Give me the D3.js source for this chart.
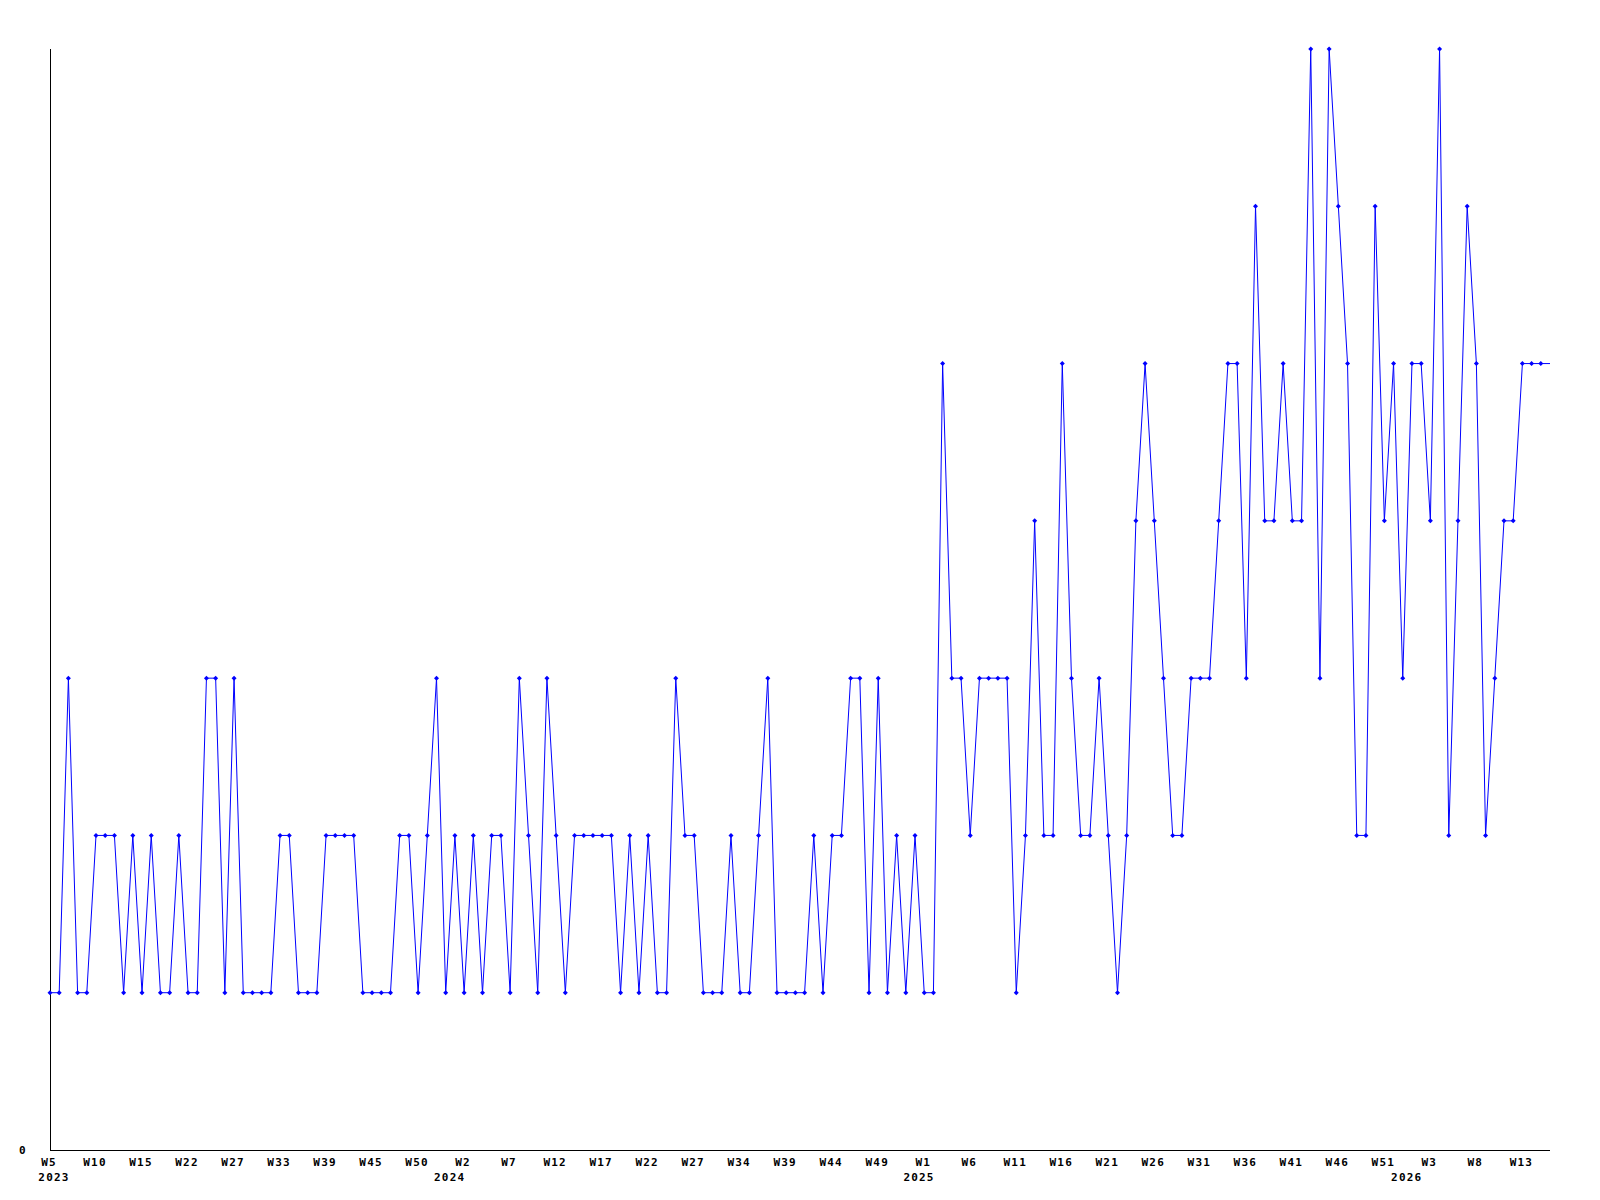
<!DOCTYPE html>
<html>
<head>
<meta charset="utf-8">
<script src="https://cdn.jsdelivr.net/npm/d3@7"></script>
<style>
  body { margin: 0; background: #fff; }
  text { font-family: "DejaVu Sans Mono", monospace; font-weight: bold; font-size: 11px; letter-spacing: 1.2px; }
</style>
</head>
<body>
<svg id="chart" width="1600" height="1200"></svg>
<script>
// weekly counts, one per point (2023 W5 .. 2026 W15)
const values = [
  1,1,3,1,1,2,2,2,1,2, 1,2,1,1,2,1,1,3,3,1, 3,1,1,1,1,2,2,1,1,1, 2,2,2,2,1,1,1,1,2,2,
  1,2,3,1,2,1,2,1,2,2, 1,3,2,1,3,2,1,2,2,2, 2,2,1,2,1,2,1,1,3,2, 2,1,1,1,2,1,1,2,3,1,
  1,1,1,2,1,2,2,3,3,1, 3,1,2,1,2,1,1,5,3,3, 2,3,3,3,3,1,2,4,2,2, 5,3,2,2,3,2,1,2,4,5,
  4,3,2,2,3,3,3,4,5,5, 3,6,4,4,5,4,4,7,3,7, 6,5,2,2,6,4,5,3,5,5, 4,7,2,4,6,5,2,3,4,4,
  5,5,5,5
];

// week tick labels, one every 5th point
const weekLabels = ["W5","W10","W15","W22","W27","W33","W39","W45","W50","W2","W7","W12",
  "W17","W22","W27","W34","W39","W44","W49","W1","W6","W11","W16","W21","W26","W31",
  "W36","W41","W46","W51","W3","W8","W13"];
const weekStep = 5;

// year labels and the point they sit under
const yearNames = ["2023", "2024", "2025", "2026"];
const yearIndex = [0, 43, 94, 147];

const yTicks = [0];

const lineColor = "#0000ff";
const margin = ({top: 49, right: 50, bottom: 50, left: 50});
const width = 1600, height = 1200;

const svg = d3.select("#chart");

const x = d3.scaleLinear()
  .domain([0, values.length - 1])
  .range([margin.left, width - margin.right]);

const y = d3.scaleLinear()
  .domain([0, d3.max(values)])
  .range([height - margin.bottom, margin.top]);

svg.append("rect")
  .attr("width", width)
  .attr("height", height)
  .attr("fill", "white");

// axes
svg.append("line")
  .attr("x1", x(0)).attr("x2", x(0))
  .attr("y1", y(d3.max(values))).attr("y2", y(0))
  .attr("stroke", "black")
  .attr("shape-rendering", "crispEdges");

svg.append("line")
  .attr("x1", x(0)).attr("x2", x(values.length - 1))
  .attr("y1", y(0)).attr("y2", y(0))
  .attr("stroke", "black")
  .attr("shape-rendering", "crispEdges");

svg.selectAll(".ylabel")
  .data(yTicks)
  .enter().append("text")
  .attr("class", "ylabel")
  .attr("x", 23)
  .attr("y", d => y(d) + 4)
  .attr("text-anchor", "middle")
  .text(d => d);

svg.selectAll(".wlabel")
  .data(weekLabels)
  .enter().append("text")
  .attr("class", "wlabel")
  .attr("x", (d, i) => x(i * weekStep) - 1)
  .attr("y", y(0) + 16)
  .attr("text-anchor", "middle")
  .text(d => d);

svg.selectAll(".year")
  .data(yearNames)
  .enter().append("text")
  .attr("class", "year")
  .attr("x", (d, i) => x(yearIndex[i]) + 4)
  .attr("y", y(0) + 31)
  .attr("text-anchor", "middle")
  .text(d => d);

// series
const line = d3.line()
  .x((d, i) => x(i))
  .y(d => y(d));

svg.append("path")
  .datum(values)
  .attr("d", line)
  .attr("fill", "none")
  .attr("stroke", lineColor)
  .attr("stroke-width", 1);

// point markers (none on the running week)
svg.selectAll(".dot")
  .data(values.slice(0, -1))
  .enter().append("path")
  .attr("class", "dot")
  .attr("transform", (d, i) => `translate(${x(i)},${y(d)})`)
  .attr("d", "M0,-2.5L2.5,0L0,2.5L-2.5,0Z")
  .attr("fill", lineColor);
</script>
</body>
</html>
